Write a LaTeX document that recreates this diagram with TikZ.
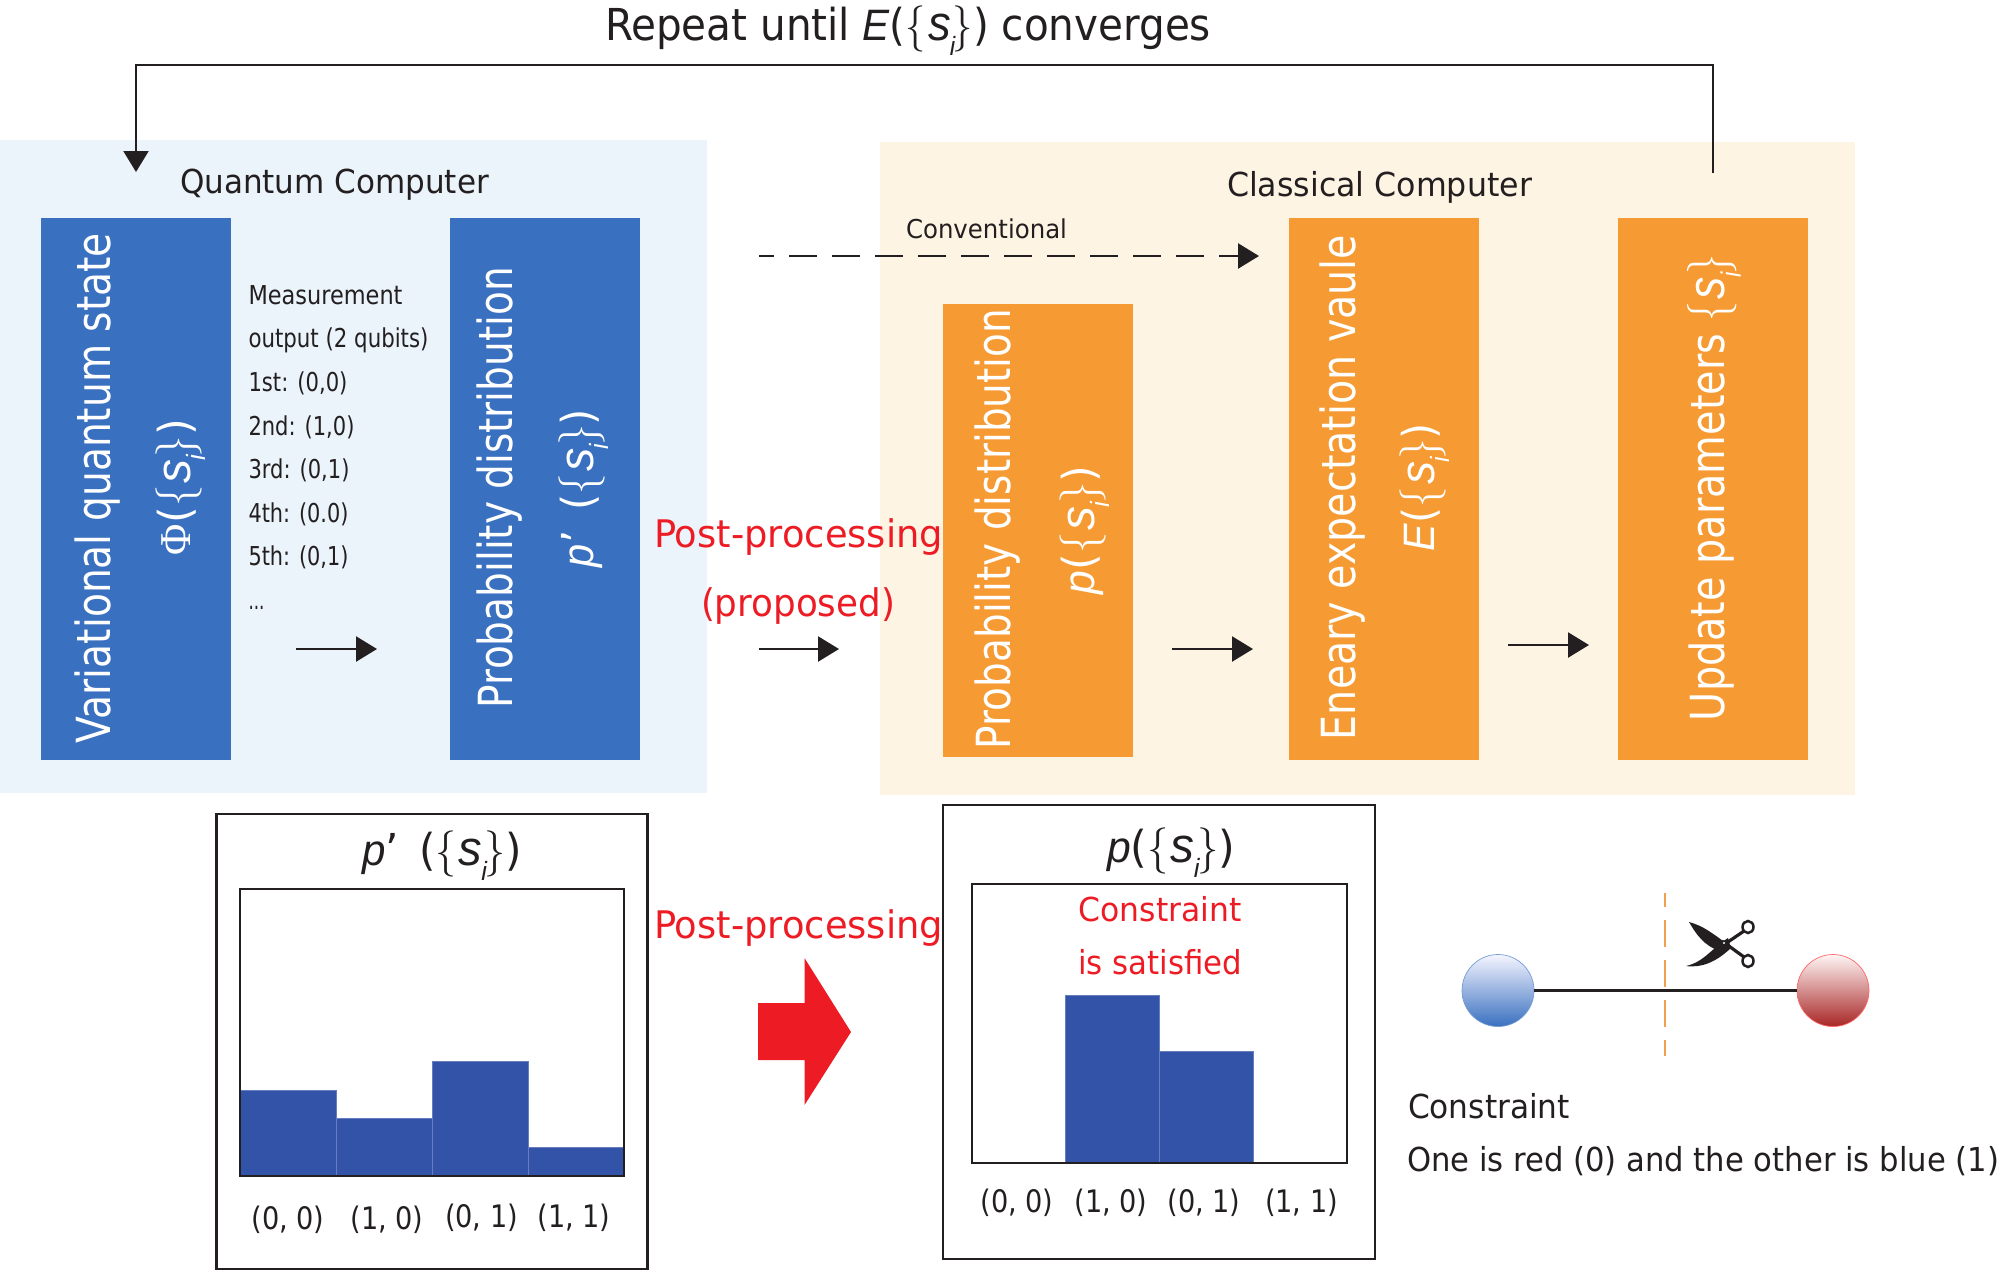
\documentclass[tikz,border=0pt]{standalone}
\usepackage{fontspec}
\usepackage{graphicx}
\usetikzlibrary{arrows.meta}
\setmainfont{DejaVu Sans}
\newfontfamily\hvf{Liberation Sans}
\newfontfamily\phif{Liberation Serif}
\newcommand\hvi{\hvf\itshape}
\newcommand\fs[1]{\fontsize{#1}{#1}\selectfont}
\newcommand\fitw[2]{\resizebox{#1pt}{\height}{#2}}
\newcommand\lbr{{\fontfamily{lmr}\selectfont\scalebox{1}[1.05]{\{}}}
\newcommand\rbr{{\fontfamily{lmr}\selectfont\scalebox{1}[1.05]{\}}}}
\newcommand\ssi{\lbr\kern.05em{\hvi\scalebox{1.12}{s}}\kern-.02em\raisebox{-.36em}{\scalebox{.6}{\hvi i}}\kern-.06em\rbr}
\definecolor{ink}{HTML}{231F20}
\definecolor{bluebg}{HTML}{EBF4FB}
\definecolor{orangebg}{HTML}{FEF4E4}
\definecolor{bluebox}{HTML}{3A70C0}
\definecolor{orangebox}{HTML}{F69A33}
\definecolor{barblue}{HTML}{3353A8}
\definecolor{redtxt}{HTML}{ED1C24}
\definecolor{cutline}{HTML}{F0A04B}
\tikzset{
  x=1pt,y=-1pt,
  txt/.style={inner sep=0,outer sep=0,anchor=base west,text=ink},
  vtxt/.style={inner sep=0,outer sep=0,anchor=base west,rotate=90,text=white},
  area/.style={inner sep=0,outer sep=0,anchor=north west},
  bluerect/.style={area,fill=bluebox,minimum width=190pt,minimum height=542pt},
  orangerect/.style={area,fill=orangebox,minimum width=190pt,minimum height=542pt},
  conn/.style={draw=ink,line width=2.4pt,-{Triangle[width=25pt,length=21pt]}},
  feedback/.style={draw=ink,line width=2.2pt},
  frame/.style={draw=ink,line width=2.5pt},
  plotbox/.style={draw=ink,line width=2pt},
  bar/.style={draw=barblue!75!white,line width=.8pt},
}
\begin{document}
\begin{tikzpicture}
\useasboundingbox (0,0) rectangle (2000,1270);
% backgrounds
\node[area,fill=bluebg,minimum width=707pt,minimum height=653pt] (qbg) at (0,140) {};
\node[area,fill=orangebg,minimum width=975pt,minimum height=653pt] (cbg) at (880,142) {};
% boxes
\node[bluerect] (vqs) at (41,218) {};
\node[bluerect] (pq) at (450,218) {};
\node[orangerect,minimum height=453pt] (pc) at (943,304) {};
\node[orangerect] (en) at (1289,218) {};
\node[orangerect] (up) at (1618,218) {};
% rotated labels
\node[vtxt,font=\fs{47}] (t1) at (110,743) {\fitw{510}{Variational quantum state}};
\node[vtxt,font=\fs{44}] (t2) at (190,555) {\fitw{136}{{\phif Φ}(\ssi)}};
\node[vtxt,font=\fs{47}] (t3) at (512,708) {\fitw{441}{Probability distribution}};
\node[vtxt,font=\fs{44}] (t4) at (593,567) {\fitw{158}{{\hvi p}’ \,(\ssi)}};
\node[vtxt,font=\fs{47}] (t5) at (1010,749) {\fitw{440}{Probability distribution}};
\node[vtxt,font=\fs{44}] (t6) at (1094,594) {\fitw{128}{{\hvi p}(\ssi)}};
\node[vtxt,font=\fs{47}] (t7) at (1355,740) {\fitw{505}{Eneary expectation vaule}};
\node[vtxt,font=\fs{44}] (t8) at (1434,551) {\fitw{128}{{\hvi E}(\ssi)}};
\node[vtxt,font=\fs{47}] (t9) at (1724,721) {\fitw{466}{Update parameters \ssi}};
% headings
\node[txt,font=\fs{44}] (title) at (605,40) {\fitw{606}{Repeat until {\hvi E}(\ssi) converges}};
\node[txt,font=\fs{33}] (qc) at (180,193) {\fitw{309}{Quantum Computer}};
\node[txt,font=\fs{33}] (cc) at (1227,196) {\fitw{305}{Classical Computer}};
\node[txt,font=\fs{26}] (conv) at (906,238) {\fitw{161}{Conventional}};
% measurement list
\node[txt,font=\fs{26}] (m1) at (248.5,304) {\fitw{154}{Measurement}};
\node[txt,font=\fs{26}] (m2) at (248.5,347) {\fitw{180}{output (2 qubits)}};
\node[txt,font=\fs{26}] (m3) at (248.5,391) {\fitw{99}{1st: (0,0)}};
\node[txt,font=\fs{26}] (m4) at (248.5,435) {\fitw{106}{2nd: (1,0)}};
\node[txt,font=\fs{26}] (m5) at (248.5,478) {\fitw{101}{3rd: (0,1)}};
\node[txt,font=\fs{26}] (m6) at (248.5,522) {\fitw{100}{4th: (0.0)}};
\node[txt,font=\fs{26}] (m7) at (248.5,565) {\fitw{100}{5th: (0,1)}};
\node[txt,font=\fs{26}] (m8) at (248.5,609) {\fitw{16}{...}};
% red labels
\node[txt,font=\fs{38},text=redtxt] (pp1) at (654,547) {\fitw{289}{Post-processing}};
\node[txt,font=\fs{38},text=redtxt] (prop) at (701,616) {\fitw{194}{(proposed)}};
\node[txt,font=\fs{38},text=redtxt] (pp2) at (654,938) {\fitw{289}{Post-processing}};
% connectors
\coordinate (a1s) at (296,649); \coordinate (a1e) at (377,649);
\coordinate (a2s) at (759,649); \coordinate (a2e) at (839,649);
\coordinate (a3s) at (1172,649); \coordinate (a3e) at (1253,649);
\coordinate (a4s) at (1508,645); \coordinate (a4e) at (1589,645);
\coordinate (ds) at (759,256); \coordinate (de) at (1259,256);
\coordinate (fs) at (1713,173); \coordinate (fc) at (1713,65);
\coordinate (fd) at (136,65); \coordinate (fe) at (136,172);
\draw[conn] (a1s) -- (a1e);
\draw[conn] (a2s) -- (a2e);
\draw[conn] (a3s) -- (a3e);
\draw[conn] (a4s) -- (a4e);
\draw[conn,dash pattern=on 28pt off 15pt,dash phase=13pt] (ds) -- (de);
\draw[feedback,-{Triangle[width=25pt,length=21pt]}] (fs) -- (fc) -- (fd) -- (fe);
% left plot
\node[area,frame,minimum width=431pt,minimum height=455pt] (lf) at (216.5,814) {};
\node[txt,font=\fs{44}] (lt) at (362,865) {\fitw{160}{{\hvi p}’ \,(\ssi)}};
\fill[barblue] (240,1090) rectangle (336,1176);
\fill[barblue] (336,1118) rectangle (432,1176);
\fill[barblue] (432,1061) rectangle (528,1176);
\fill[barblue] (528,1147) rectangle (624,1176);
\draw[bar] (240,1090) rectangle (336,1176);
\draw[bar] (336,1118) rectangle (432,1176);
\draw[bar] (432,1061) rectangle (528,1176);
\draw[bar] (528,1147) rectangle (624,1176);
\node[area,plotbox,minimum width=384pt,minimum height=287pt] (lp) at (240,889) {};
\node[txt,font=\fs{31},anchor=base] (l1) at (288,1229) {\fitw{73}{(0, 0)}};
\node[txt,font=\fs{31},anchor=base] (l2) at (387,1229) {\fitw{73}{(1, 0)}};
\node[txt,font=\fs{31},anchor=base] (l3) at (481.5,1227) {\fitw{73}{(0, 1)}};
\node[txt,font=\fs{31},anchor=base] (l4) at (574,1227) {\fitw{73}{(1, 1)}};
% red arrow
\fill[redtxt] (758,1003) -- (804.5,1003) -- (804.5,958) -- (851,1032) -- (804.5,1105) -- (804.5,1060) -- (758,1060) -- cycle;
% right plot
\node[area,frame,minimum width=432pt,minimum height=454pt] (rf) at (943,805) {};
\node[txt,font=\fs{44}] (rt) at (1107,862) {\fitw{128}{{\hvi p}(\ssi)}};
\fill[barblue] (1065,995) rectangle (1159,1163);
\fill[barblue] (1159,1051) rectangle (1253,1163);
\draw[bar] (1065,995) rectangle (1159,1163);
\draw[bar] (1159,1051) rectangle (1253,1163);
\node[area,plotbox,minimum width=375pt,minimum height=279pt] (rp) at (972,884) {};
\node[txt,font=\fs{33},text=redtxt,anchor=base] (c1) at (1160,921) {\fitw{163}{Constraint}};
\node[txt,font=\fs{33},text=redtxt,anchor=base] (c2) at (1160,974) {\fitw{164}{is satisfied}};
\node[txt,font=\fs{31},anchor=base] (r1) at (1017,1212) {\fitw{73}{(0, 0)}};
\node[txt,font=\fs{31},anchor=base] (r2) at (1111,1212) {\fitw{73}{(1, 0)}};
\node[txt,font=\fs{31},anchor=base] (r3) at (1204,1212) {\fitw{73}{(0, 1)}};
\node[txt,font=\fs{31},anchor=base] (r4) at (1301.5,1212) {\fitw{73}{(1, 1)}};
% constraint graph
\draw[draw=cutline,line width=2.6pt,dash pattern=on 27pt off 13pt,dash phase=13pt] (1665,893) -- (1665,1056);
\node[circle,inner sep=0,minimum width=72pt,minimum height=72pt,top color=blue!4!white,bottom color=bluebox,draw=bluebox!70!white,line width=.7pt] (nb) at (1498,990.5) {};
\node[circle,inner sep=0,minimum width=72pt,minimum height=72pt,top color=red!4!white,bottom color=red!60!black!85!white,draw=red!60!white,line width=.7pt] (nr) at (1833,990.5) {};
\draw[draw=ink,line width=2.6pt] (nb) -- (nr);
% scissors
\fill[ink] (1726,943) .. controls (1713,934) and (1704,926) .. (1689,922) .. controls (1696,934) and (1704,946) .. (1720,951) -- cycle;
\fill[ink] (1728,938) .. controls (1712,948) and (1704,962) .. (1686,966) .. controls (1702,968) and (1716,962) .. (1731,948) -- cycle;
\draw[ink,line width=3.2pt] (1722,946) -- (1744,931);
\draw[ink,line width=3.2pt] (1722,941) -- (1744,957);
\draw[ink,line width=2.5pt,fill=white] (1748,927) ellipse (5.5pt and 6pt);
\draw[ink,line width=2.5pt,fill=white] (1748,961) ellipse (5.5pt and 6pt);
\fill[white] (1724,943) circle (1.2pt);
% constraint text
\node[txt,font=\fs{33}] (ct) at (1408,1118) {\fitw{162}{Constraint}};
\node[txt,font=\fs{33}] (cd) at (1407,1171) {\fitw{592}{One is red (0) and the other is blue (1)}};
\end{tikzpicture}
\end{document}
